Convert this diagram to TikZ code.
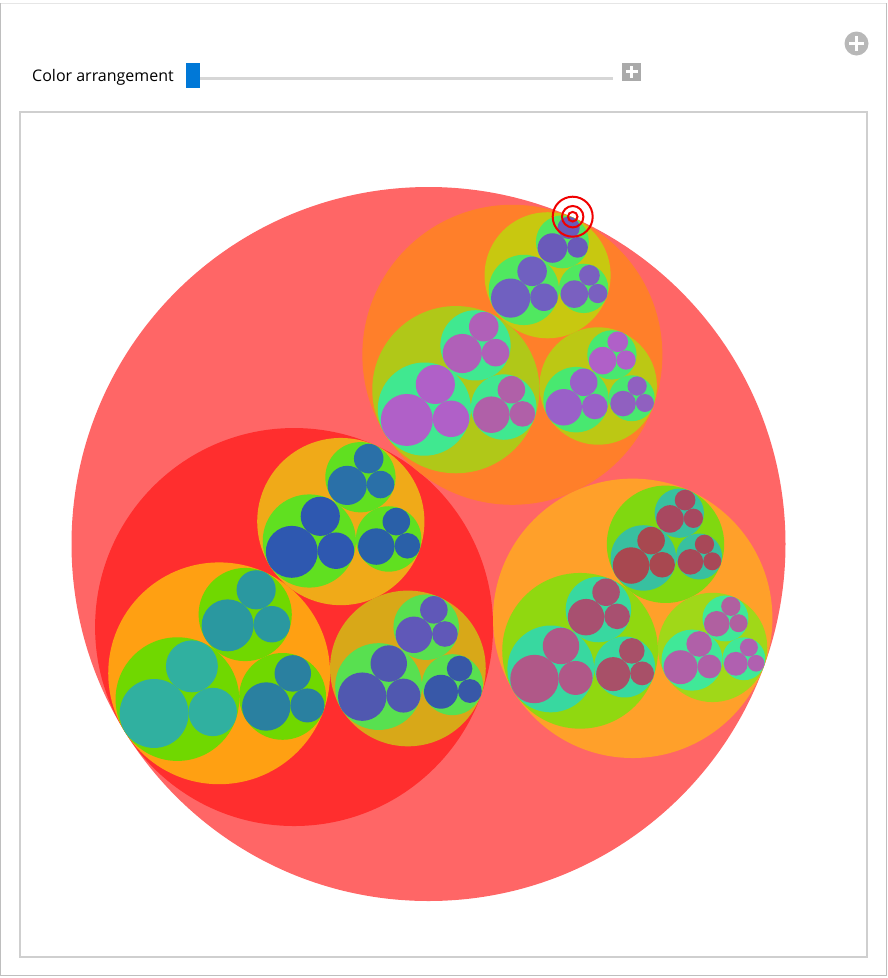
\documentclass[tikz,border=0pt]{standalone}
\usepackage{fontspec}
\setmainfont{Open Sans}
% panel
\definecolor{panelgray}{HTML}{BEBEBE}
\definecolor{paneltop}{HTML}{E6E6E6}
\definecolor{framegray}{HTML}{CFCFCF}
\definecolor{trackgray}{HTML}{D6D6D6}
\definecolor{thumbblue}{HTML}{0078D7}
\definecolor{plusgray}{HTML}{AAAAAA}
\definecolor{icongray}{HTML}{B8B8B8}
\definecolor{locred}{HTML}{F00000}
% packing, outer levels
\definecolor{rootpink}{HTML}{FF6666}
\definecolor{redA}{HTML}{FF2E2E}
\definecolor{orangeB}{HTML}{FF7F2A}
\definecolor{orangeC}{HTML}{FFA02A}
\definecolor{yAA}{HTML}{FFA012}
\definecolor{yAB}{HTML}{F0AA18}
\definecolor{yAC}{HTML}{D8A818}
\definecolor{yBA}{HTML}{B0C818}
\definecolor{yBB}{HTML}{C8C810}
\definecolor{yBC}{HTML}{BCC814}
\definecolor{yCA}{HTML}{90D810}
\definecolor{yCB}{HTML}{80D810}
\definecolor{yCC}{HTML}{A0D818}
\definecolor{gAA}{HTML}{70D800}
\definecolor{gAB}{HTML}{60E020}
\definecolor{gAC}{HTML}{58E050}
\definecolor{gBA}{HTML}{40E890}
\definecolor{gBB}{HTML}{50E860}
\definecolor{gBC}{HTML}{48E870}
\definecolor{gCA}{HTML}{38D8A0}
\definecolor{gCB}{HTML}{38C0A0}
\definecolor{gCC}{HTML}{40E898}
% packing, smallest circles
\definecolor{bAAA}{HTML}{30B0A0}
\definecolor{bAAB}{HTML}{2A98A0}
\definecolor{bAAC}{HTML}{2A80A0}
\definecolor{bABA}{HTML}{2E58B0}
\definecolor{bABB}{HTML}{2A70A8}
\definecolor{bABC}{HTML}{2A60A8}
\definecolor{bACA}{HTML}{5058B0}
\definecolor{bACB}{HTML}{6058B8}
\definecolor{bACC}{HTML}{3858A8}
\definecolor{bBAA}{HTML}{B060C8}
\definecolor{bBAB}{HTML}{B060B8}
\definecolor{bBAC}{HTML}{B060A8}
\definecolor{bBBA}{HTML}{7060C0}
\definecolor{bBBB}{HTML}{6A5ABA}
\definecolor{bBBC}{HTML}{7A60C0}
\definecolor{bBCA}{HTML}{9A60C8}
\definecolor{bBCB}{HTML}{B060C8}
\definecolor{bBCC}{HTML}{9060C0}
\definecolor{bCAA}{HTML}{B05888}
\definecolor{bCAB}{HTML}{A85070}
\definecolor{bCAC}{HTML}{A85068}
\definecolor{bCBA}{HTML}{A84850}
\definecolor{bCBB}{HTML}{A84860}
\definecolor{bCBC}{HTML}{A84858}
\definecolor{bCCA}{HTML}{B060A8}
\definecolor{bCCB}{HTML}{B060A0}
\definecolor{bCCC}{HTML}{B060B0}
\tikzset{kidA/.style={shift={(211.7:0.4426)}, scale=0.5574}}
\tikzset{kidB/.style={shift={(66.1:0.5798)}, scale=0.4202}}
\tikzset{kidC/.style={shift={(-20:0.6087)}, scale=0.3913}}

\newcommand\sprig[2]{%
  \fill[#1] (0,0) circle (1);
  \fill[#2] (211.7:0.4426) circle (0.5574);
  \fill[#2] (66.1:0.5798) circle (0.4202);
  \fill[#2] (-20:0.6087) circle (0.3913);
}
\newcommand\bough[5]{%
  \fill[#1] (0,0) circle (1);
  \begin{scope}[kidA] \sprig{#2}{#3} \end{scope}
  \begin{scope}[kidB] \sprig{#2}{#4} \end{scope}
  \begin{scope}[kidC] \sprig{#2}{#5} \end{scope}
}

\begin{document}
\begin{tikzpicture}[x=1pt, y=-1pt]%{{{
    \useasboundingbox (0,0) rectangle (888,978);
    \draw[panelgray] (0.5,3.5) rectangle (886,975);
    \draw[paneltop] (0.5,3.5) -- (886,3.5);
    \draw[framegray, line width=2pt] (20,112) rectangle (867,957);

    % controls
    \node[anchor=base west, inner sep=0pt, font=\fontsize{16}{18}\selectfont] (lbl) at (32,81.7)
    {Color arrangement};
    \fill[trackgray] (200,76.5) rectangle (613,79.5);
    \fill[thumbblue] (186,62.5) rectangle (200,88);
    \fill[plusgray] (622,62.5) rectangle (641,80.5);
    \fill[white] (630,65.5) rectangle (633,77.5);
    \fill[white] (625.5,70) rectangle (637.5,73);
    \fill[icongray] (856.5,43.5) circle (12);
    \fill[white] (855,36) rectangle (858,51);
    \fill[white] (849,42) rectangle (864,45);

    % packing
    \begin{scope}[shift={(428.5,544)}, x=357pt, y=357pt]
        \fill[rootpink] (0,0) circle (1);
        \begin{scope}[kidA]
            \fill[redA] (0,0) circle (1);
            \begin{scope}[kidA] \bough{yAA}{gAA}{bAAA}{bAAB}{bAAC} \end{scope}
            \begin{scope}[kidB] \bough{yAB}{gAB}{bABA}{bABB}{bABC} \end{scope}
            \begin{scope}[kidC] \bough{yAC}{gAC}{bACA}{bACB}{bACC} \end{scope}
        \end{scope}
        \begin{scope}[kidB]
            \fill[orangeB] (0,0) circle (1);
            \begin{scope}[kidA] \bough{yBA}{gBA}{bBAA}{bBAB}{bBAC} \end{scope}
            \begin{scope}[kidB] \bough{yBB}{gBB}{bBBA}{bBBB}{bBBC} \end{scope}
            \begin{scope}[kidC] \bough{yBC}{gBC}{bBCA}{bBCB}{bBCC} \end{scope}
        \end{scope}
        \begin{scope}[kidC]
            \fill[orangeC] (0,0) circle (1);
            \begin{scope}[kidA] \bough{yCA}{gCA}{bCAA}{bCAB}{bCAC} \end{scope}
            \begin{scope}[kidB] \bough{yCB}{gCB}{bCBA}{bCBB}{bCBC} \end{scope}
            \begin{scope}[kidC] \bough{yCC}{gCC}{bCCA}{bCCB}{bCCC} \end{scope}
        \end{scope}
    \end{scope}

    % locator
    \draw[locred, line width=2pt] (572.7,216.7) circle (20) circle (10.7) circle (4.8);
\end{tikzpicture}
\end{document}
